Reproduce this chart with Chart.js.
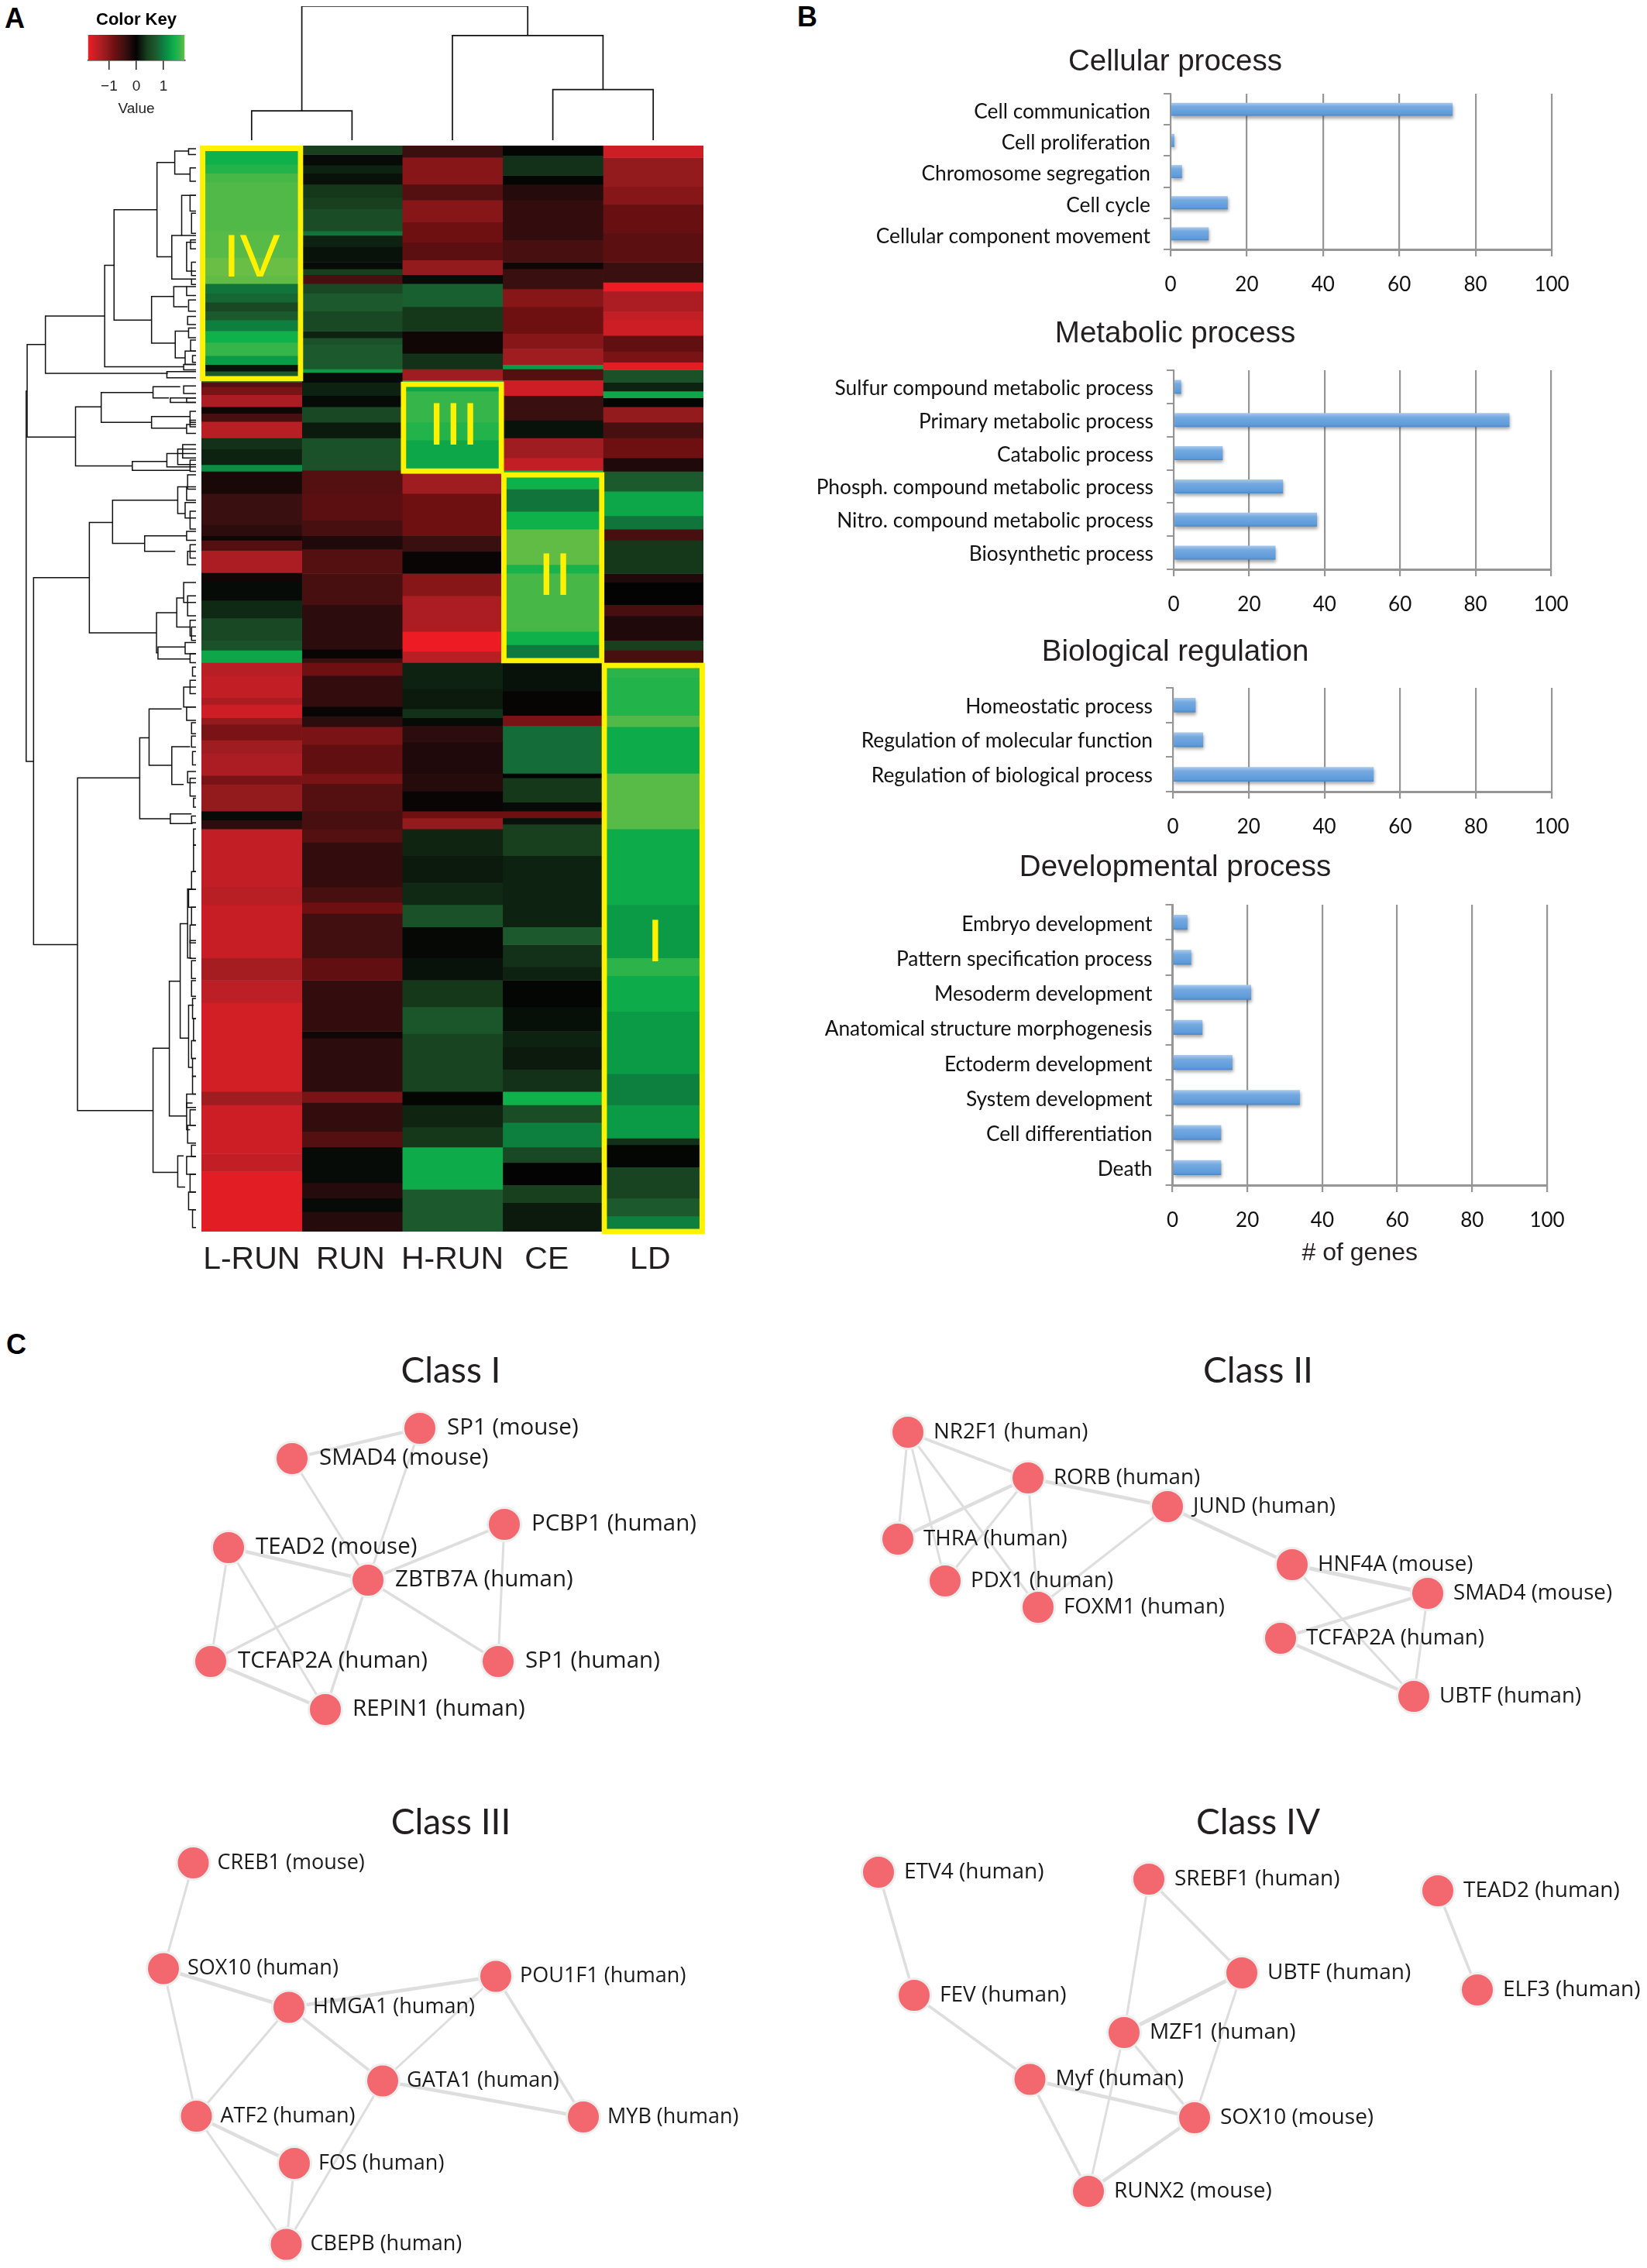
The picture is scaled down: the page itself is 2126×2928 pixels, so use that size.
<!DOCTYPE html>
<html><head><meta charset="utf-8">
<script src="https://cdn.jsdelivr.net/npm/chart.js@4"></script>
<style>
html,body{margin:0;background:#fff}
#page{position:relative;width:2126px;height:2928px;overflow:hidden;background:#fff}
canvas{position:absolute;display:block}
.pl{position:absolute;font:bold 36px "Liberation Sans",sans-serif;color:#000;line-height:1}
</style></head><body><div id="page">
<div class="pl" style="left:6px;top:6px">A</div>
<div class="pl" style="left:1029px;top:4px">B</div>
<div class="pl" style="left:8px;top:1718px">C</div>
</div>
<script>
/* ---------- heat map ---------- */
const columns=['L-RUN','RUN','H-RUN','CE','LD'];
const columnLabelPos=[0,.985,2,2.94,3.97];
const firstRow=328, lastRow=2769;
/* [row where the band ends, value] */
const lrunBands=[[335,1.2],[370,1.4],[390,1.5],[410,1.7],[520,1.75],[580,1.8],[620,1.9],[638,1.85],[660,.9],[680,.8],[700,.5],[720,.7],[745,1],[770,1.4],[800,1.6],[820,1.2],[835,.1],[860,.7],[870,-.6],[888,-.9],[915,-1.3],[930,-.1],[948,-.5],[985,-1.4],[1010,.3],[1045,.2],[1060,1.1],[1110,-.15],[1180,-.4],[1205,-.3],[1215,-.1],[1238,-.6],[1288,-1.3],[1310,-.1],[1350,.05],[1390,.25],[1440,.5],[1462,.6],[1490,1.3],[1519,-1.4],[1569,-1.5],[1584,-1.3],[1614,-1.6],[1629,-1.1],[1664,-.9],[1694,-1.2],[1744,-1.3],[1764,-.9],[1824,-1.1],[1844,.05],[1864,-.3],[1994,-1.5],[2034,-1.4],[2154,-1.55],[2204,-1.25],[2254,-1.45],[2454,-1.65],[2484,-1.2],[2594,-1.6],[2634,-1.5],[2769,-1.8]];
const runBands=[[348,.4],[372,.05],[390,.2],[415,.1],[445,.35],[470,.4],[520,.55],[530,.9],[555,.2],[590,.1],[605,.05],[618,.4],[638,-.5],[660,.5],[700,.7],[745,.5],[760,.2],[775,.6],[830,.7],[838,1.2],[860,.05],[890,.2],[915,.05],[950,.5],[985,.15],[1058,.6],[1110,-.6],[1170,-.65],[1205,-.5],[1235,-.2],[1290,-.6],[1360,-.5],[1460,-.3],[1480,-.05],[1490,-.4],[1519,-.8],[1589,-.35],[1612,-.05],[1634,-.3],[1674,-.9],[1739,-.7],[1762,-.9],[1824,-.6],[1864,-.5],[1894,-.6],[1994,-.35],[2029,-.5],[2054,-.8],[2154,-.45],[2204,-.7],[2319,-.35],[2334,-.1],[2454,-.3],[2479,-.9],[2544,-.35],[2579,-.6],[2659,.05],[2694,-.25],[2724,.05],[2769,-.25]];
const hrunBands=[[355,-.4],[415,-1],[450,-.6],[500,-1],[545,-.8],[585,-.65],[618,-1.1],[638,.05],[690,.75],[745,.35],[795,-.1],[830,.3],[855,-1.2],[880,1.3],[950,1.6],[990,1.5],[1060,1.3],[1110,-1.2],[1205,-.8],[1240,-.4],[1290,-.05],[1340,-1],[1420,-1.3],[1465,-1.9],[1490,-1.4],[1549,.2],[1594,.15],[1614,.3],[1632,.05],[1669,-.3],[1739,-.2],[1779,-.25],[1824,-.05],[1839,-.8],[1864,-1.1],[1924,.22],[1984,.15],[2034,.25],[2084,.6],[2154,.03],[2204,.1],[2264,.35],[2324,.65],[2454,.45],[2484,.02],[2534,.22],[2579,.35],[2674,1.35],[2769,.7]];
const ceBands=[[350,.02],[395,.3],[415,.02],[450,-.25],[540,-.35],[590,-.5],[605,-.1],[650,-.4],[690,-1],[750,-.8],[785,-1],[820,-1.2],[830,1.2],[855,-.6],[890,-1.6],[945,-.4],[985,.1],[1030,-1.2],[1058,-1.5],[1100,1.4],[1150,.9],[1190,1.4],[1270,1.85],[1290,1.45],[1420,1.7],[1450,1.4],[1490,.95],[1554,.1],[1609,-.03],[1632,-.9],[1739,.85],[1749,0],[1804,.35],[1824,.05],[1839,-.8],[1854,.1],[1924,.4],[2084,.2],[2124,.7],[2174,.3],[2204,.2],[2264,.02],[2319,.08],[2354,.2],[2404,.15],[2454,.3],[2484,1.4],[2524,.55],[2579,1],[2614,.5],[2664,0],[2704,.4],[2769,.15]];
const ldBands=[[355,-1.6],[420,-1.1],[460,-1],[525,-.75],[590,-.65],[635,-.4],[655,-1.9],[700,-1.3],[720,-1.5],[755,-1.6],[790,-.7],[815,-.9],[832,-1.8],[860,.6],[880,.2],[895,1.3],[915,.02],[950,-1.1],[985,-.5],[1030,-.8],[1060,-.2],[1105,.7],[1160,1.3],[1190,.9],[1215,-.5],[1290,.35],[1310,-.2],[1360,0],[1385,-.5],[1440,-.2],[1462,.4],[1490,-.5],[1524,1.55],[1609,1.5],[1634,1.75],[1739,1.35],[1864,1.8],[2034,1.35],[2154,1.2],[2194,1.55],[2274,1.35],[2414,1.2],[2484,1],[2559,1.2],[2574,.3],[2624,.02],[2694,.45],[2734,.7],[2769,1]];
const columnBands=[lrunBands,runBands,hrunBands,ceBands,ldBands];
const keyStops=[-1.9,-1.4,-1.1,-.8,-.4,0,.4,.7,.95,1.2,1.4,1.6,1.9];
const keyColors=['#ED1C24','#B71F25','#931A1D','#6E0F11','#3A0F10','#030303','#18401F','#1C5A2D','#0E7A3F','#0B9A46','#0FB14B','#35B54A','#6ABD45'];
const classNames=['IV','III','II','I'];
const classColumns=['L-RUN','H-RUN','CE','LD'];
const classFrom=[328,858,1062,1490];
const classTo=[858,1066,1492,2775];
const classPos=[0,2.01,3.02,4.02];
const classMid=[585,963,1300,2124];
/* ---------- dendrograms ---------- */
/* [height, left leaf pos, left height, right leaf pos, right height] */
const columnTree=[[66,0,0,1,0],[114,3,0,4,0],[236,2,0,3.5,114],[302,.5,66,2.75,236]];
/* [branch pos, top row, top child pos, bottom row, bottom child pos] */
const rowTree=[[55,775,92,983,153],[53,880,55,1712,68],[68,1299,181,2124,157],[181,1175,228,1423,317],[228,1125,360,1222,293],[157,1749,283,2497,310],[283,1659,302,1841,345],[302,1594,368,1721,348],[348,1679,385,1764,372],[345,1830,388,1852,390],[310,2357,343,2636,360],[343,2206,365,2509,378],[365,2077,380,2334,382],[380,1999,390,2154,388],[382,2260,392,2400,390],[378,2480,390,2540,385],[360,2599,372,2669,375],[92,711,212,840,340],[212,597,231,825,372],[231,472,318,720,307],[318,366,354,578,348],[354,340,382,392,385],[348,530,368,628,388],[307,667,352,772,355],[352,645,378,690,380],[355,745,382,805,375],[153,915,205,1048,268],[205,883,310,950,307],[310,870,365,895,342],[307,937,385,963,378],[268,1038,338,1058,385],[360,1095,378,1155,375],[293,1205,378,1240,355],[317,1378,358,1468,320],[358,1345,372,1410,385],[320,1455,375,1482,385]];
/* [branch pos, row 1, row 2] - joined straight to the leaves */
const leafTree=[[382,335,348],[385,378,408],[368,440,530],[385,440,475],[388,480,525],[378,545,610],[386,540,560],[388,590,620],[388,628,640],[378,645,665],[382,675,700],[380,712,730],[382,738,760],[386,765,790],[375,790,820],[390,800,815],[372,820,832],[338,836,850],[372,868,885],[378,895,905],[345,895,905],[385,925,950],[378,955,975],[385,945,960],[360,1010,1045],[338,1020,1050],[370,1000,1030],[385,1035,1060],[380,1068,1100],[378,1095,1125],[375,1130,1165],[385,1150,1190],[378,1195,1215],[385,1225,1255],[380,1240,1270],[372,1310,1355],[380,1340,1385],[385,1395,1430],[388,1410,1440],[375,1445,1470],[385,1470,1490],[390,1500,1520],[385,1530,1560],[372,1545,1590],[378,1590,1620],[388,1625,1650],[388,1655,1680],[390,1690,1720],[380,1735,1760],[385,1750,1790],[392,1795,1815],[388,1835,1850],[392,1864,1900],[392,1900,1960],[388,1960,2000],[382,2000,2040],[388,2040,2080],[385,2080,2120],[385,2115,2155],[388,2160,2200],[388,2205,2240],[390,2245,2290],[392,2290,2340],[388,2340,2380],[390,2380,2420],[390,2420,2460],[378,2460,2490],[385,2495,2530],[380,2530,2570],[388,2575,2600],[378,2600,2640],[385,2640,2680],[382,2680,2720],[390,2720,2760]];
/* ---------- bar panels ---------- */
const cellularLabels=['Cell communication','Cell proliferation','Chromosome segregation','Cell cycle','Cellular component movement'];
const cellularValues=[74,1,3,15,10];
const metabolicLabels=['Sulfur compound metabolic process','Primary metabolic process','Catabolic process','Phosph. compound metabolic process','Nitro. compound metabolic process','Biosynthetic process'];
const metabolicValues=[2,89,13,29,38,27];
const regulationLabels=['Homeostatic process','Regulation of molecular function','Regulation of biological process'];
const regulationValues=[6,8,53];
const developmentLabels=['Embryo development','Pattern specification process','Mesoderm development','Anatomical structure morphogenesis','Ectoderm development','System development','Cell differentiation','Death'];
const developmentValues=[4,5,21,8,16,34,13,13];
const geneTicks=[0,20,40,60,80,100];
/* ---------- networks ---------- */
const class1Names=['SP1 (mouse)','SMAD4 (mouse)','PCBP1 (human)','TEAD2 (mouse)','ZBTB7A (human)','TCFAP2A (human)','SP1 (human)','REPIN1 (human)'];
const class1X=[542,377,651,295,475,272,643,420];
const class1Y=[1844,1883,1968,1998,2040,2145,2145,2207];
const class1Edges=[[0,1,4],[1,4,3],[0,4,3],[2,4,4],[3,4,4.5],[2,6,3],[3,5,3],[3,7,3],[4,5,3.5],[4,7,3.5],[4,6,3.5],[5,7,4.5]];
const class2Names=['NR2F1 (human)','RORB (human)','JUND (human)','THRA (human)','PDX1 (human)','FOXM1 (human)','HNF4A (mouse)','SMAD4 (mouse)','TCFAP2A (human)','UBTF (human)'];
const class2X=[1172,1327,1507,1159,1220,1340,1668,1843,1653,1825];
const class2Y=[1849,1908,1945,1987,2041,2075,2020,2057,2115,2190];
const class2Edges=[[0,1,4],[0,3,3],[0,4,3],[0,5,3],[1,3,4.5],[1,4,3],[1,5,3],[1,2,4.5],[2,5,3],[2,6,4.5],[6,7,5],[6,9,3],[7,8,4],[7,9,3],[8,9,4.5]];
const class3Names=['CREB1 (mouse)','SOX10 (human)','POU1F1 (human)','HMGA1 (human)','GATA1 (human)','ATF2 (human)','MYB (human)','FOS (human)','CBEPB (human)'];
const class3X=[249.5,211,640,373,494,253.5,753,380,369.5];
const class3Y=[2405,2541.5,2551.5,2591.5,2686.5,2732,2733,2793,2897.5];
const class3Edges=[[0,1,3],[1,3,4.5],[1,5,3],[3,2,4.5],[3,5,3],[3,4,3.5],[2,4,3],[2,6,3.5],[4,6,4.5],[4,8,3],[5,7,4.5],[5,8,3],[7,8,3]];
const class4Names=['ETV4 (human)','SREBF1 (human)','TEAD2 (human)','UBTF (human)','ELF3 (human)','FEV (human)','MZF1 (human)','Myf (human)','SOX10 (mouse)','RUNX2 (mouse)'];
const class4X=[1134,1483,1856,1603,1907,1180,1451,1329.5,1542,1405];
const class4Y=[2417,2426,2441,2547,2569,2576,2624,2684.5,2734,2829];
const class4Edges=[[0,5,3.5],[5,7,3.5],[1,3,3.5],[1,6,3],[6,9,3],[3,6,5],[3,8,3],[6,8,3.5],[7,8,4.5],[7,9,3.5],[8,9,4.5],[2,4,3.5]];

/* ---------- helpers ---------- */
Chart.defaults.animation=false;
Chart.defaults.responsive=false;
Chart.defaults.devicePixelRatio=1;
Chart.defaults.plugins.legend.display=false;
Chart.defaults.plugins.tooltip.enabled=false;
const page=document.getElementById('page');
function mk(l,t,w,h){const c=document.createElement('canvas');c.width=w;c.height=h;
  c.style.left=l+'px';c.style.top=t+'px';c.style.width=w+'px';c.style.height=h+'px';page.appendChild(c);return c;}
function hex(h){return [1,3,5].map(i=>parseInt(h.substr(i,2),16));}
function heat(v){let i=0;while(i<keyStops.length-2&&v>keyStops[i+1])i++;
  const t=Math.max(0,Math.min(1,(v-keyStops[i])/(keyStops[i+1]-keyStops[i])));
  const a=hex(keyColors[i]),b=hex(keyColors[i+1]);
  return 'rgb('+a.map((x,k)=>Math.round(x+(b[k]-x)*t)).join(',')+')';}
const hiddenLinear=(o)=>Object.assign({type:'linear',display:false},o);

/* ---------- colour key ---------- */
new Chart(mk(100,15,152,143),{type:'bar',
  data:{labels:['Value'],datasets:[{data:[[keyStops[0]+.12,keyStops[keyStops.length-1]-.12]],barPercentage:1,categoryPercentage:1,inflateAmount:0,
    backgroundColor:(c)=>{const a=c.chart.chartArea;if(!a)return '#000';
      const g=c.chart.ctx.createLinearGradient(a.left,0,a.right,0),lo=keyStops[0]+.12,hi=keyStops[keyStops.length-1]-.12;
      keyStops.forEach((v,i)=>{const t=(v-lo)/(hi-lo);if(t>=0&&t<=1)g.addColorStop(t,keyColors[i]);});
      g.addColorStop(0,'#ED1C24');g.addColorStop(1,'#6ABD45');return g;}}]},
  options:{indexAxis:'y',layout:{autoPadding:false,padding:{left:13.5,right:13.5}},
    plugins:{title:{display:true,text:'Color Key',color:'#000',font:{family:'Liberation Sans',size:22,weight:'bold',lineHeight:1},padding:{top:0,bottom:8}}},
    scales:{y:{display:false},
      x:{min:-1.78,max:1.78,afterBuildTicks:s=>{s.ticks=[-1,0,1].map(v=>({value:v}));},afterFit:s=>{s.height=80;},
        grid:{drawOnChartArea:false,tickLength:12,color:'#222',lineWidth:1.5},border:{color:'#222',width:1.5},
        ticks:{padding:10,color:'#222',font:{family:'Liberation Sans',size:19},callback:v=>v<0?'\u2212'+(-v):''+v},
        title:{display:true,text:'Value',color:'#222',font:{family:'Liberation Sans',size:19},padding:{top:0,bottom:6}}}}}});

/* ---------- column dendrogram ---------- */
new Chart(mk(260,8,648,173),{type:'scatter',
  data:{datasets:columnTree.map(m=>({data:[{x:m[1],y:m[2]},{x:m[1],y:m[0]},{x:m[3],y:m[0]},{x:m[3],y:m[4]}],showLine:true,pointRadius:0,borderColor:'#111',borderWidth:1.7,clip:false}))},
  options:{layout:{autoPadding:false},scales:{x:hiddenLinear({min:-.5,max:4.5}),y:hiddenLinear({min:0,max:302})}}});

/* ---------- row dendrogram ---------- */
const rowDs=[];
rowTree.forEach(m=>rowDs.push({data:[{x:m[2],y:m[1]},{x:m[0],y:m[1]},{x:m[0],y:m[3]},{x:m[4],y:m[3]}]}));
leafTree.forEach(m=>rowDs.push({data:[{x:397,y:m[1]},{x:m[0],y:m[1]},{x:m[0],y:m[2]},{x:397,y:m[2]}]}));
new Chart(mk(0,188,253,1402),{type:'scatter',
  data:{datasets:rowDs.map(d=>Object.assign(d,{showLine:true,pointRadius:0,borderColor:'#111',borderWidth:1.5,clip:false}))},
  options:{layout:{autoPadding:false},scales:{x:hiddenLinear({min:0,max:397}),y:hiddenLinear({min:firstRow,max:lastRow,reverse:true})}}});

/* ---------- heat map ---------- */
const heatDs=[];
columnBands.forEach((bands,ci)=>{let start=firstRow;bands.forEach(b=>{
  heatDs.push({data:[{x:columns[ci],y:[start,b[0]]}],backgroundColor:heat(b[1]),borderWidth:0,order:1,barPercentage:1,categoryPercentage:1,grouped:false});
  start=b[0];});});
classNames.forEach((n,i)=>heatDs.push({data:[{x:classColumns[i],y:[classFrom[i],classTo[i]]}],backgroundColor:'rgba(0,0,0,0)',borderColor:'#FFF200',borderWidth:7,borderSkipped:false,inflateAmount:0,order:0,clip:false,barPercentage:1.03,categoryPercentage:1,grouped:false}));
const numerals={id:'numerals',afterDatasetsDraw(ch){const c=ch.ctx;c.save();c.fillStyle='#FFF200';c.font='78px "Liberation Sans"';c.textAlign='center';c.textBaseline='middle';
  classNames.forEach((n,i)=>c.fillText(n,ch.scales.x2.getPixelForValue(classPos[i]),ch.scales.y.getPixelForValue(classMid[i])));c.restore();}};
new Chart(mk(250,180,668,1480),{type:'bar',plugins:[numerals],
  data:{labels:columns,datasets:heatDs},
  options:{layout:{autoPadding:false,padding:{left:10,right:10,top:8,bottom:0}},
    scales:{y:{type:'linear',display:false,reverse:true,min:firstRow,max:lastRow},
      x:{stacked:true,display:false},
      x2:{type:'linear',position:'bottom',offset:false,min:-.5,max:4.5,afterBuildTicks:s=>{s.ticks=columnLabelPos.map(v=>({value:v}));},afterFit:s=>{s.height=70;s.paddingLeft=0;s.paddingRight=0;},grid:{display:false,drawTicks:false,offset:false},border:{display:false},
        ticks:{padding:12,color:'#231F20',font:{family:'Liberation Sans',size:41},maxRotation:0,autoSkip:false,callback:(v,i)=>columns[i]}}}}});

/* ---------- bar panels ---------- */
const barShadow={id:'barShadow',
  beforeDatasetDraw(ch){const c=ch.ctx;c.save();c.shadowColor='rgba(60,60,60,.45)';c.shadowBlur=4;c.shadowOffsetY=3;c.shadowOffsetX=1;},
  afterDatasetDraw(ch){ch.ctx.restore();}};
function barPanel(title,labels,values,x0,x100,top,bottom,titleY,axisTitle,labelShift){
  const T=titleY-19,CL=2*1517-x100,pad=40,barFrac=.42,xH=axisTitle?112:70;
  const W=x100+pad-CL,H=bottom+xH-T;
  new Chart(mk(CL,T,W,H),{type:'bar',plugins:[barShadow],
    data:{labels,datasets:[{data:values,barPercentage:barFrac,categoryPercentage:1,
      backgroundColor:(c)=>{const s=c.chart.scales.y;if(!s||!c.chart.chartArea||s.height<=0)return '#5B9BD5';
        const cy=s.getPixelForValue(c.dataIndex),h=s.height/labels.length*barFrac/2;
        const g=c.chart.ctx.createLinearGradient(0,cy-h,0,cy+h);
        g.addColorStop(0,'#A8C9EC');g.addColorStop(.3,'#74A9E0');g.addColorStop(.85,'#5E9BDB');g.addColorStop(1,'#4F86C4');return g;}}]},
    options:{indexAxis:'y',layout:{autoPadding:false,padding:{right:pad,left:0,top:0,bottom:0}},
      plugins:{title:{display:true,text:title,color:'#231F20',font:{family:'Liberation Sans',size:38.5,weight:'normal',lineHeight:1},padding:{top:0,bottom:top-T-38.5}}},
      scales:{
        y:{afterFit:s=>{s.width=x0-CL;s.paddingTop=0;s.paddingBottom=0;},grid:{drawOnChartArea:false,tickLength:9,color:'#969696',lineWidth:2,offset:true},border:{color:'#969696',width:2},
          ticks:{padding:17,color:'#111',autoSkip:false,labelOffset:labelShift,font:{family:'Lato',size:26.3}}},
        x:{min:0,max:100,afterBuildTicks:s=>{s.ticks=geneTicks.map(v=>({value:v}));},afterFit:s=>{s.height=xH;s.paddingLeft=0;s.paddingRight=0;},
          grid:{color:'#969696',lineWidth:2.2,tickLength:9},border:{color:'#969696',width:3},
          ticks:{padding:21,color:'#111',maxRotation:0,font:{family:'Lato',size:26}},
          title:axisTitle?{display:true,text:axisTitle,color:'#231F20',font:{family:'Liberation Sans',size:32},padding:{top:0,bottom:5}}:{display:false}}}}});
}
barPanel('Cellular process',cellularLabels,cellularValues,1511,2003,121,322,80,null,3.5);
barPanel('Metabolic process',metabolicLabels,metabolicValues,1515,2002,478,735,431,null,2);
barPanel('Biological regulation',regulationLabels,regulationValues,1514,2003,888,1022,842,null,2);
barPanel('Developmental process',developmentLabels,developmentValues,1513.5,1997,1168,1530,1120,'# of genes',2.5);

/* ---------- networks ---------- */
function network(title,names,xs,ys,edges,L,R,titleY,bottom,labelSize,labelGap){
  const T=titleY-22,top=T+50;
  const pts=xs.map((x,i)=>({x,y:ys[i]}));
  const nodeText={id:'nodeText',afterDatasetsDraw(ch){const c=ch.ctx,ds=ch.data.datasets[0],m=ch.getDatasetMeta(0);c.save();c.fillStyle='#1a1a1a';c.font=labelSize+'px "Open Sans"';c.textAlign='left';c.textBaseline='middle';
    m.data.forEach((p,i)=>c.fillText(ds.nodeNames[i],p.x+labelGap,p.y));c.restore();}};
  const ds=[{nodeNames:names,data:pts,pointRadius:21.5,pointBackgroundColor:'#F2686E',pointBorderColor:'#EFEFEF',pointBorderWidth:3,showLine:false,order:0,clip:false}];
  edges.forEach(e=>ds.push({data:[pts[e[0]],pts[e[1]]],showLine:true,pointRadius:0,borderColor:'#DEDEDE',borderWidth:e[2],order:1}));
  new Chart(mk(L,T,R-L,bottom-T),{type:'scatter',plugins:[nodeText],data:{datasets:ds},
    options:{layout:{autoPadding:false},plugins:{title:{display:true,text:title,color:'#231F20',font:{family:'Lato',size:46,weight:'normal',lineHeight:1},padding:{top:0,bottom:4}}},
      scales:{x:hiddenLinear({min:L,max:R}),y:hiddenLinear({min:top,max:bottom,reverse:true})}}});
}
network('Class I',class1Names,class1X,class1Y,class1Edges,100,1064,1769,2260,29.5,35);
network('Class II',class2Names,class2X,class2Y,class2Edges,1100,2148,1769,2260,27.7,33);
network('Class III',class3Names,class3X,class3Y,class3Edges,100,1064,2352,2928,27,31);
network('Class IV',class4Names,class4X,class4Y,class4Edges,1100,2148,2352,2928,28,33);
</script></body></html>
